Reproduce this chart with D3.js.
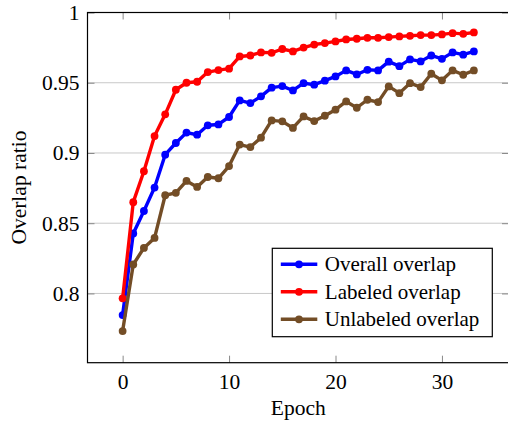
<html>
<head>
<meta charset="utf-8">
<script src="https://d3js.org/d3.v7.min.js"></script>
<style>
    body { margin: 0; background: #fff; }
    text { font-family: "Liberation Serif", "Times New Roman", serif; }
</style>
</head>
<body>
<div id="chart"></div>
<script>
    var epochs = [0, 1, 2, 3, 4, 5, 6, 7, 8, 9, 10, 11, 12, 13, 14, 15, 16,
        17, 18, 19, 20, 21, 22, 23, 24, 25, 26, 27, 28, 29, 30, 31, 32, 33];

    var overall = [0.7846, 0.8427, 0.8587, 0.8754, 0.8988, 0.9071, 0.9145, 0.9130, 0.9197, 0.9203,
        0.9256, 0.9374, 0.9355, 0.9403, 0.9465, 0.9476, 0.9445, 0.9497, 0.9486, 0.9515,
        0.9545, 0.9588, 0.9559, 0.9592, 0.9588, 0.9650, 0.9618, 0.9666, 0.9652, 0.9694,
        0.9670, 0.9716, 0.9700, 0.9723];

    var labeled = [0.7965, 0.8650, 0.8870, 0.9120, 0.9275, 0.9450, 0.9500, 0.9507, 0.9576, 0.9590,
        0.9600, 0.9687, 0.9694, 0.9716, 0.9713, 0.9740, 0.9723, 0.9750, 0.9772, 0.9782,
        0.9794, 0.9808, 0.9813, 0.9820, 0.9820, 0.9825, 0.9830, 0.9834, 0.9839, 0.9839,
        0.9844, 0.9853, 0.9848, 0.9858];

    var unlabeled = [0.7732, 0.8206, 0.8324, 0.8395, 0.8699, 0.8716, 0.8801, 0.8758, 0.8829, 0.8820,
        0.8907, 0.9060, 0.9042, 0.9109, 0.9232, 0.9225, 0.9178, 0.9260, 0.9227, 0.9265,
        0.9308, 0.9367, 0.9322, 0.9379, 0.9362, 0.9474, 0.9426, 0.9497, 0.9469, 0.9564,
        0.9517, 0.9588, 0.9557, 0.9588];

    var seriesNames = ["Overall overlap", "Labeled overlap", "Unlabeled overlap"];
    var seriesColors = ["#0000ff", "#ff0000", "#734d26"];
    var xTicks = [0, 10, 20, 30];
    var yTicks = [0.8, 0.85, 0.9, 0.95, 1];

    function draw() {
        var width = 508;
        var height = 421;
        var pLeft = 87.5, pTop = 12.5, pRight = 509, pBottom = 362.7;

        var svg = d3.select("#chart").append("svg")
            .attr("width", width)
            .attr("height", height);

        var xs = d3.scaleLinear().domain([-3.3, 36.3]).range([pLeft, pRight]);
        var ys = d3.scaleLinear().domain([0.7507, 1]).range([pBottom, pTop]);

        // grid lines
        svg.append("g")
            .selectAll("line")
            .data(yTicks.filter(function (d) { return d < 1; }))
            .enter().append("line")
            .attr("x1", pLeft).attr("x2", pRight)
            .attr("y1", function (d) { return ys(d); })
            .attr("y2", function (d) { return ys(d); })
            .attr("stroke", "#c8c8c8")
            .attr("stroke-width", 1);

        // axes, ticks pointing inside
        function styleAxis(g, showText) {
            g.select(".domain").remove();
            g.selectAll(".tick line").attr("stroke", "#888").attr("stroke-width", 1);
            g.selectAll(".tick text")
                .attr("fill", "#000")
                .style("font-size", "21.5px")
                .style("font-family", "'Liberation Serif', serif");
            if (!showText) g.selectAll(".tick text").remove();
        }

        svg.append("g")
            .attr("transform", "translate(0," + pBottom + ")")
            .call(d3.axisBottom(xs).tickValues(xTicks).tickSize(-7).tickPadding(11).tickFormat(d3.format("d")))
            .call(function (g) { styleAxis(g, true); });
        svg.append("g")
            .attr("transform", "translate(0," + pTop + ")")
            .call(d3.axisTop(xs).tickValues(xTicks).tickSize(-7))
            .call(function (g) { styleAxis(g, false); });
        svg.append("g")
            .attr("transform", "translate(" + pLeft + ",0)")
            .call(d3.axisLeft(ys).tickValues(yTicks).tickSize(-7).tickPadding(8)
                .tickFormat(function (d) { return String(+d.toFixed(2)); }))
            .call(function (g) { styleAxis(g, true); });
        svg.append("g")
            .attr("transform", "translate(" + pRight + ",0)")
            .call(d3.axisRight(ys).tickValues(yTicks).tickSize(-7))
            .call(function (g) { styleAxis(g, false); });

        // series
        var allSeries = [overall, labeled, unlabeled];
        var line = d3.line()
            .x(function (d, i) { return xs(epochs[i]); })
            .y(function (d) { return ys(d); });

        allSeries.forEach(function (values, k) {
            svg.append("path")
                .attr("d", line(values))
                .attr("fill", "none")
                .attr("stroke", seriesColors[k])
                .attr("stroke-width", 3.4)
                .attr("stroke-linejoin", "round");
            svg.append("g")
                .selectAll("circle")
                .data(values)
                .enter().append("circle")
                .attr("cx", function (d, i) { return xs(epochs[i]); })
                .attr("cy", function (d) { return ys(d); })
                .attr("r", 3.9)
                .attr("fill", seriesColors[k]);
        });

        // frame
        svg.append("rect")
            .attr("x", pLeft).attr("y", pTop)
            .attr("width", pRight - pLeft).attr("height", pBottom - pTop)
            .attr("fill", "none")
            .attr("stroke", "#000")
            .attr("stroke-width", 1.2);

        // axis labels
        svg.append("text")
            .attr("x", (pLeft + pRight) / 2)
            .attr("y", 415)
            .attr("text-anchor", "middle")
            .style("font-size", "21.5px")
            .text("Epoch");
        svg.append("text")
            .attr("transform", "translate(26," + ((pTop + pBottom) / 2) + ") rotate(-90)")
            .attr("text-anchor", "middle")
            .style("font-size", "21.5px")
            .text("Overlap ratio");

        // legend
        var legend = svg.append("g").attr("transform", "translate(272.3,248.3)");
        legend.append("rect")
            .attr("width", 220).attr("height", 88.4)
            .attr("fill", "#fff")
            .attr("stroke", "#000")
            .attr("stroke-width", 1.2);
        seriesNames.forEach(function (name, k) {
            var y = 16 + k * 27.5;
            legend.append("line")
                .attr("x1", 8.5).attr("x2", 45)
                .attr("y1", y).attr("y2", y)
                .attr("stroke", seriesColors[k])
                .attr("stroke-width", 3.4);
            legend.append("circle")
                .attr("cx", 26.7).attr("cy", y).attr("r", 3.9)
                .attr("fill", seriesColors[k]);
            legend.append("text")
                .attr("x", 52.5).attr("y", y)
                .attr("dy", "0.33em")
                .style("font-size", "21px")
                .text(name);
        });
    }
    draw();
</script>
</body>
</html>
